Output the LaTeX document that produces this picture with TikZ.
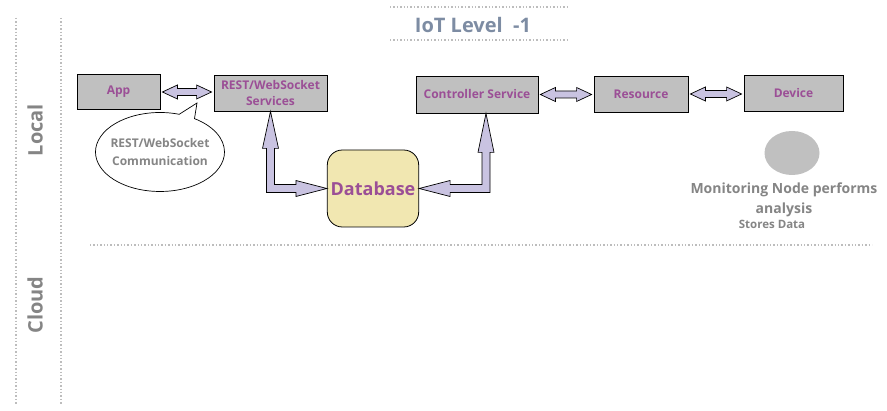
\documentclass[tikz,border=0pt]{standalone}
\usepackage{fontspec}
\setmainfont{Open Sans}
\usetikzlibrary{calc,shapes.callouts,shapes.geometric}
\definecolor{boxgray}{HTML}{C0C0C0}
\definecolor{lblpurple}{HTML}{9B4F96}
\definecolor{titleblue}{HTML}{7D8CA3}
\definecolor{txtgray}{HTML}{858585}
\definecolor{dbfill}{HTML}{F1E7B1}
\definecolor{arrfill}{HTML}{C9C3E1}
\definecolor{dotgray}{HTML}{BDBDBD}
\tikzset{
  compbox/.style={draw=black, line width=0.8pt, fill=boxgray, minimum height=35pt, inner sep=1pt, align=center, font=\bfseries\fontsize{12}{16}\selectfont, text=lblpurple},
  fatarr/.style={draw=black, line width=0.7pt, fill=arrfill, line join=miter},
  dotline/.style={draw=dotgray, line width=1.4pt, dotted},
  sidelbl/.style={rotate=90, text=txtgray, font=\bfseries\fontsize{20}{22}\selectfont},
}
\newcommand\hdarr[2]{\draw[fatarr] let \p1=(#1), \p2=(#2) in
  (\x1,\y1) -- (\x1+15pt,\y1+7pt) -- (\x1+15pt,\y1+3.5pt) -- (\x2-15pt,\y1+3.5pt) -- (\x2-15pt,\y1+7pt) -- (\x2,\y1)
  -- (\x2-15pt,\y1-7pt) -- (\x2-15pt,\y1-3.5pt) -- (\x1+15pt,\y1-3.5pt) -- (\x1+15pt,\y1-7pt) -- cycle;}
\begin{document}
\begin{tikzpicture}[x=1pt,y=-1pt]
\useasboundingbox[fill=white] (0,0) rectangle (887,411);
% frame lines
\draw[dotline] (16,18) -- (16,405);
\draw[dotline] (61,18) -- (61,405);
\draw[dotline] (90,245) -- (872,245);
\draw[dotline] (390,7) -- (568,7);
\draw[dotline] (390,40) -- (568,40);
% labels
\node[text=titleblue, font=\bfseries\fontsize{20}{22}\selectfont] (title) at (473,25) {IoT Level\ \ -1};
\node[sidelbl] (local) at (35,130) {Local};
\node[sidelbl] (cloud) at (35,305) {Cloud};
% boxes
\node[compbox, minimum width=83pt] (app) at (118.5,92) {App};
\node[compbox, minimum width=113pt, minimum height=36pt] (rest) at (270.5,93) {REST/WebSocket\\Services};
\node[compbox, minimum width=122pt, minimum height=37pt] (ctrl) at (477,94.5) {Controller Service};
\node[compbox, minimum width=94pt, minimum height=36pt] (res) at (641,94) {Resource};
\node[compbox, minimum width=99pt, minimum height=36pt] (dev) at (793.5,93) {Device};
\node[draw=black, line width=0.8pt, fill=dbfill, rounded corners=15pt, minimum width=88pt, minimum height=77pt, text=lblpurple, font=\bfseries\fontsize{18}{20}\selectfont] (db) at (373,188.5) {Database};
% monitoring node
\node[ellipse, fill=boxgray, minimum width=55pt, minimum height=44pt] (mon) at (792,153) {};
\node[text=txtgray, align=center, font=\bfseries\fontsize{14}{20}\selectfont, anchor=north] (monlbl) at (784,179) {Monitoring Node performs\\analysis};
\node[text=txtgray, font=\bfseries\fontsize{11.5}{12}\selectfont] (stores) at (772,224.5) {Stores Data};
% horizontal double arrows
\hdarr{[xshift=2pt]app.east}{[xshift=-2pt]rest.west}
\hdarr{[xshift=2pt]ctrl.east}{[xshift=-2pt]res.west}
\hdarr{[xshift=2pt]res.east}{[xshift=-2pt]dev.west}
% elbow arrows
\draw[fatarr] let \p1=(rest.south), \p2=(db.west) in
  (\x1,\y1) -- (\x1+8pt,\y1-37pt) -- (\x1+4pt,\y1-37pt) -- (\x1+4pt,\y2+4pt) -- (\x2-31pt,\y2+4pt) -- (\x2-31pt,\y2+8pt) -- (\x2,\y2)
  -- (\x2-31pt,\y2-8pt) -- (\x2-31pt,\y2-4pt) -- (\x1-4pt,\y2-4pt) -- (\x1-4pt,\y1-37pt) -- (\x1-8pt,\y1-37pt) -- cycle;
\draw[fatarr] let \p1=([xshift=9pt]ctrl.south), \p2=(db.east) in
  (\x1,\y1) -- (\x1-8pt,\y1-39pt) -- (\x1-4pt,\y1-39pt) -- (\x1-4pt,\y2+4pt) -- (\x2+31pt,\y2+4pt) -- (\x2+31pt,\y2+8pt) -- (\x2,\y2)
  -- (\x2+31pt,\y2-8pt) -- (\x2+31pt,\y2-4pt) -- (\x1+4pt,\y2-4pt) -- (\x1+4pt,\y1-39pt) -- (\x1+8pt,\y1-39pt) -- cycle;
% callout
\coordinate (ptr) at (197,103);
\node[ellipse callout, draw=black, line width=0.7pt, fill=white, inner xsep=-12pt, inner ysep=-6pt, minimum width=129pt, minimum height=79pt, callout absolute pointer={(ptr)}, text=txtgray, align=center, font=\bfseries\fontsize{12}{18}\selectfont] (comm) at (160,152) {REST/WebSocket\\Communication};
\end{tikzpicture}
\end{document}
